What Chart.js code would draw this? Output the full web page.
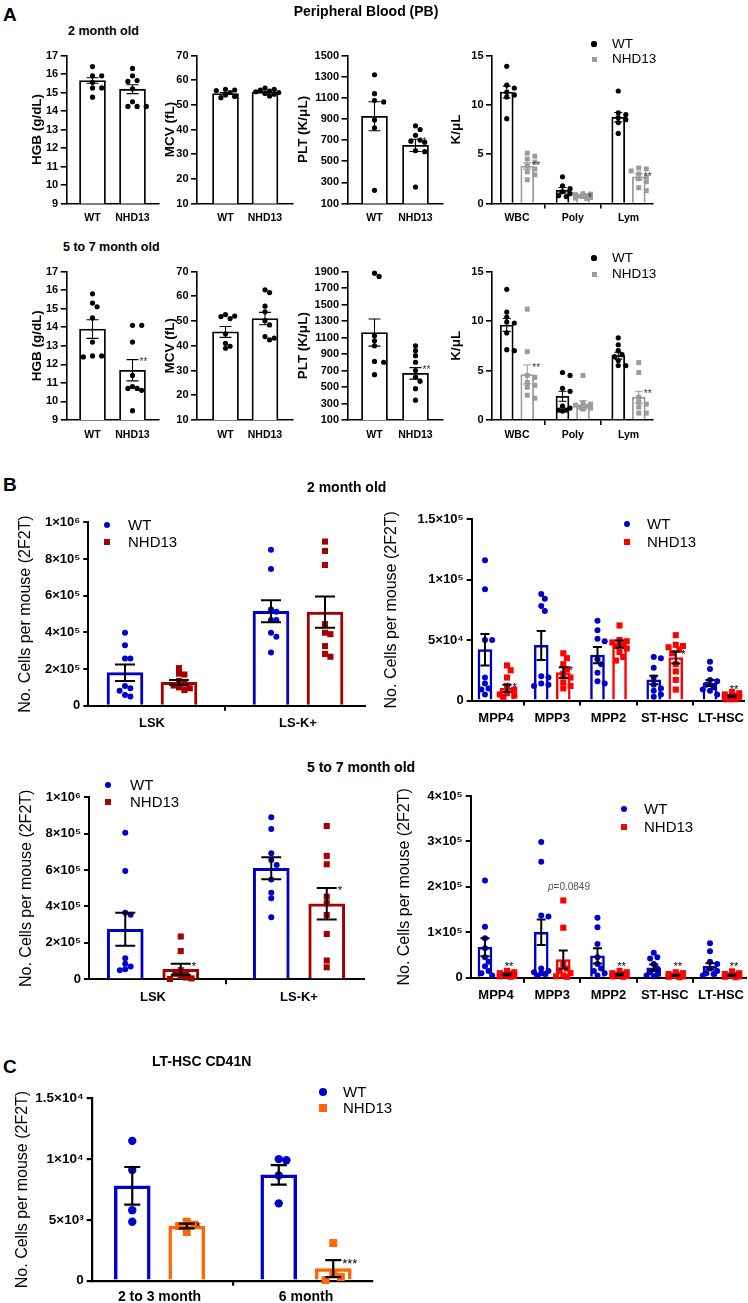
<!DOCTYPE html>
<html lang="en">
<head>
<meta charset="UTF-8">
<title>NHD13 blood and stem cell counts</title>
<script src="https://cdn.jsdelivr.net/npm/chart.js"></script>
<style>
  body { margin: 0; background: #fff; }
  #page { position: relative; width: 748px; height: 1303px; overflow: hidden; font-family: 'Liberation Sans', Arial, Helvetica, sans-serif; }
  #page canvas { position: absolute; }
  .t { position: absolute; white-space: nowrap; line-height: 1.2; color: #000; }
  .mk { position: absolute; }
</style>
</head>
<body>
<div id="page"></div>
<script>
    // ---------- Panel A: peripheral blood ----------
    const pbGroups = ['WT', 'NHD13'];
    const pbCells = ['WBC', 'Poly', 'Lym'];
    const hgbTicks = [9, 10, 11, 12, 13, 14, 15, 16, 17];
    const mcvTicks = [10, 20, 30, 40, 50, 60, 70];
    const plt2Ticks = [100, 300, 500, 700, 900, 1100, 1300, 1500];
    const plt6Ticks = [100, 300, 500, 700, 900, 1100, 1300, 1500, 1700, 1900];
    const kulTicks = [0, 5, 10, 15];

    // 2 month old
    const hgb2Wt = [16.4, 15.9, 15.9, 15.55, 15.25, 15.25, 14.75];
    const hgb2Nhd = [16.3, 15.9, 15.65, 15.6, 15.2, 14.5, 14.25, 14.25, 14.25];
    const hgb2Mean = [15.65, 15.18];
    const hgb2Sem = [0.15, 0.24];
    const hgb2Stars = ['', ''];

    const mcv2Wt = [56.3, 56.0, 55.8, 55.0, 54.0, 53.4, 52.9];
    const mcv2Nhd = [56.8, 56.3, 56.0, 55.6, 55.3, 55.0, 54.6, 54.3, 53.6];
    const mcv2Mean = [54.6, 55.2];
    const mcv2Sem = [0.4, 0.3];
    const mcv2Stars = ['', ''];

    const plt2Wt = [1318, 1139, 1074, 1061, 891, 816, 225];
    const plt2Nhd = [835, 800, 745, 700, 690, 680, 600, 590, 255];
    const plt2Mean = [925, 650];
    const plt2Sem = [137, 58];
    const plt2Stars = ['', '*'];

    const kul2WtPts = [[13.9, 12.0, 11.7, 11.3, 11.0, 10.8, 8.6], [2.7, 1.8, 1.5, 1.2, 1.0, 0.8, 0.7], [11.4, 9.2, 9.0, 8.7, 8.5, 8.2, 7.1]];
    const kul2WtMean = [11.3, 1.35, 8.75];
    const kul2WtSem = [0.6, 0.27, 0.48];
    const kul2NhdPts = [[5.1, 4.8, 4.5, 4.2, 3.8, 3.5, 3.2, 2.9, 2.4], [1.0, 0.95, 0.9, 0.8, 0.75, 0.7, 0.6, 0.55, 0.5], [3.6, 3.5, 3.3, 3.0, 2.7, 2.5, 2.2, 1.6, 1.3]];
    const kul2NhdMean = [3.8, 0.75, 2.7];
    const kul2NhdSem = [0.32, 0.08, 0.3];
    const kul2Stars = ['**', '*', '**'];

    // 5 to 7 month old
    const hgb6Wt = [15.8, 15.3, 15.1, 14.5, 13.2, 12.45, 12.4, 12.45];
    const hgb6Nhd = [14.1, 14.1, 13.2, 11.4, 10.8, 10.7, 10.7, 10.6, 9.5];
    const hgb6Mean = [13.9, 11.68];
    const hgb6Sem = [0.5, 0.57];
    const hgb6Stars = ['', '**'];

    const mcv6Wt = [52.6, 52.0, 51.8, 51.0, 44.8, 41.0, 39.8, 39.0];
    const mcv6Nhd = [62.6, 61.5, 56.0, 53.7, 50.1, 48.4, 43.7, 43.1, 42.4];
    const mcv6Mean = [45.6, 51.0];
    const mcv6Sem = [2.2, 2.5];
    const mcv6Stars = ['', ''];

    const plt6Wt = [1880, 1840, 1120, 1060, 1000, 810, 800, 650];
    const plt6Nhd = [1000, 940, 880, 800, 700, 620, 570, 480, 340];
    const plt6Mean = [1160, 665];
    const plt6Sem = [165, 70];
    const plt6Stars = ['', '**'];

    const kul6WtPts = [[13.2, 10.9, 10.4, 9.9, 9.8, 8.8, 7.1, 7.0], [4.8, 4.5, 3.2, 2.9, 1.4, 1.2, 1.0, 1.0, 0.9], [8.3, 7.6, 7.0, 6.6, 6.4, 6.0, 5.5, 5.5]];
    const kul6WtMean = [9.6, 2.4, 6.5];
    const kul6WtSem = [0.65, 0.5, 0.35];
    const kul6NhdPts = [[11.2, 6.9, 4.5, 4.3, 3.8, 3.5, 3.3, 2.5, 2.2], [4.5, 1.7, 1.6, 1.5, 1.4, 1.3, 1.2, 1.1], [5.8, 4.8, 2.3, 1.8, 1.6, 1.3, 0.7, 0.7]];
    const kul6NhdMean = [4.6, 1.5, 2.3];
    const kul6NhdSem = [0.95, 0.45, 0.6];
    const kul6Stars = ['**', '', '**'];

    // ---------- Panel B: stem / progenitor cells ----------
    const lskCats = ['LSK', 'LS-K+'];
    const mppCats = ['MPP4', 'MPP3', 'MPP2', 'ST-HSC', 'LT-HSC'];
    const lskTicks = [0, 2e5, 4e5, 6e5, 8e5, 1e6];
    const lskTickLabels = ['0', '2×10⁵', '4×10⁵', '6×10⁵', '8×10⁵', '1×10⁶'];
    const mpp2Ticks = [0, 5e4, 1e5, 1.5e5];
    const mpp2TickLabels = ['0', '5×10⁴', '1×10⁵', '1.5×10⁵'];
    const mpp6Ticks = [0, 1e5, 2e5, 3e5, 4e5];
    const mpp6TickLabels = ['0', '1×10⁵', '2×10⁵', '3×10⁵', '4×10⁵'];

    const lsk2WtPts = [[3.98e5, 3.3e5, 2.58e5, 2.58e5, 1.07e5, 0.95e5, 0.82e5, 0.58e5, 0.5e5], [8.5e5, 7.45e5, 5.25e5, 5.12e5, 4.67e5, 4.67e5, 3.98e5, 3.76e5, 2.9e5]];
    const lsk2WtMean = [1.8e5, 5.15e5];
    const lsk2WtSem = [0.45e5, 0.6e5];
    const lsk2NhdPts = [[2.05e5, 1.75e5, 1.7e5, 1.35e5, 1.2e5, 1.1e5, 1.0e5, 0.95e5, 0.85e5], [8.95e5, 8.44e5, 7.67e5, 4.45e5, 3.98e5, 3.9e5, 3.25e5, 2.82e5, 2.67e5]];
    const lsk2NhdMean = [1.27e5, 5.1e5];
    const lsk2NhdSem = [0.13e5, 0.85e5];
    const lsk2Stars = ['', ''];

    const mpp2WtPts = [
        [11.6e4, 9.2e4, 5.0e4, 5.0e4, 1.9e4, 1.4e4, 1.0e4, 0.9e4, 0.5e4],
        [8.8e4, 8.4e4, 7.8e4, 7.4e4, 2.0e4, 1.9e4, 1.4e4, 1.3e4, 1.2e4],
        [6.6e4, 5.8e4, 5.1e4, 4.9e4, 3.4e4, 3.0e4, 2.3e4, 1.6e4, 1.4e4],
        [3.6e4, 3.5e4, 2.7e4, 1.9e4, 1.3e4, 1.0e4, 0.8e4, 0.5e4, 0.3e4],
        [3.2e4, 2.6e4, 1.7e4, 1.6e4, 1.3e4, 1.1e4, 0.9e4, 0.8e4, 0.5e4]];
    const mpp2WtMean = [4.2e4, 4.55e4, 3.75e4, 1.7e4, 1.45e4];
    const mpp2WtSem = [1.3e4, 1.2e4, 0.68e4, 0.35e4, 0.25e4];
    const mpp2NhdPts = [
        [2.9e4, 2.5e4, 1.9e4, 1.2e4, 0.9e4, 0.6e4, 0.5e4, 0.4e4, 0.3e4],
        [3.9e4, 3.5e4, 3.0e4, 2.6e4, 2.2e4, 1.9e4, 1.5e4, 1.2e4, 1.0e4],
        [6.2e4, 5.0e4, 4.9e4, 4.8e4, 4.6e4, 4.5e4, 4.3e4, 4.0e4, 3.6e4, 3.3e4],
        [5.4e4, 4.6e4, 4.5e4, 4.4e4, 4.2e4, 3.9e4, 3.0e4, 2.4e4, 1.7e4, 0.9e4],
        [0.7e4, 0.6e4, 0.5e4, 0.4e4, 0.3e4, 0.3e4, 0.2e4, 0.2e4, 0.1e4, 0.1e4]];
    const mpp2NhdMean = [1.0e4, 2.3e4, 4.65e4, 3.55e4, 0.35e4];
    const mpp2NhdSem = [0.3e4, 0.45e4, 0.3e4, 0.5e4, 0.07e4];
    const mpp2Stars = ['*', '*', '', '*', '**'];

    const lsk6WtPts = [[8.05e5, 5.95e5, 3.65e5, 3.55e5, 1.15e5, 0.85e5, 0.7e5, 0.55e5, 0.5e5], [8.9e5, 8.26e5, 6.92e5, 6.56e5, 6.28e5, 5.49e5, 4.76e5, 4.45e5, 3.41e5]];
    const lsk6WtMean = [2.75e5, 6.1e5];
    const lsk6WtSem = [0.9e5, 0.6e5];
    const lsk6NhdPts = [[2.35e5, 1.55e5, 0.5e5, 0.4e5, 0.3e5, 0.2e5, 0.1e5, 0.05e5, 0.02e5], [8.42e5, 6.78e5, 6.32e5, 4.54e5, 4.18e5, 3.53e5, 2.49e5, 1.03e5, 0.66e5]];
    const lsk6NhdMean = [0.55e5, 4.15e5];
    const lsk6NhdSem = [0.3e5, 0.87e5];
    const lsk6Stars = ['*', '*'];

    const mpp6WtPts = [
        [2.14e5, 1.12e5, 0.87e5, 0.65e5, 0.45e5, 0.35e5, 0.25e5, 0.15e5, 0.1e5, 0.05e5],
        [2.99e5, 2.55e5, 1.37e5, 1.35e5, 0.2e5, 0.15e5, 0.12e5, 0.1e5, 0.08e5, 0.05e5],
        [1.32e5, 1.11e5, 0.74e5, 0.45e5, 0.3e5, 0.2e5, 0.15e5, 0.1e5, 0.05e5],
        [0.55e5, 0.45e5, 0.42e5, 0.3e5, 0.2e5, 0.12e5, 0.08e5, 0.05e5, 0.03e5],
        [0.76e5, 0.58e5, 0.35e5, 0.3e5, 0.2e5, 0.15e5, 0.1e5, 0.08e5, 0.05e5]];
    const mpp6WtMean = [0.67e5, 1.0e5, 0.48e5, 0.22e5, 0.25e5];
    const mpp6WtSem = [0.2e5, 0.28e5, 0.17e5, 0.07e5, 0.07e5];
    const mpp6NhdPts = [
        [0.15e5, 0.12e5, 0.1e5, 0.08e5, 0.06e5, 0.05e5, 0.04e5, 0.03e5, 0.02e5],
        [1.7e5, 1.1e5, 0.3e5, 0.2e5, 0.15e5, 0.1e5, 0.05e5, 0.03e5, 0.02e5],
        [0.15e5, 0.12e5, 0.1e5, 0.08e5, 0.06e5, 0.05e5, 0.04e5, 0.03e5, 0.02e5],
        [0.12e5, 0.1e5, 0.08e5, 0.06e5, 0.05e5, 0.04e5, 0.03e5, 0.02e5, 0.01e5],
        [0.14e5, 0.1e5, 0.08e5, 0.06e5, 0.05e5, 0.04e5, 0.03e5, 0.02e5, 0.01e5]];
    const mpp6NhdMean = [0.07e5, 0.4e5, 0.07e5, 0.05e5, 0.05e5];
    const mpp6NhdSem = [0.015e5, 0.2e5, 0.015e5, 0.01e5, 0.015e5];
    const mpp6Stars = ['**', '', '**', '**', '**'];

    // ---------- Panel C: LT-HSC CD41N ----------
    const cdCats = ['2 to 3 month', '6 month'];
    const cdTicks = [0, 5e3, 1e4, 1.5e4];
    const cdTickLabels = ['0', '5×10³', '1×10⁴', '1.5×10⁴'];
    const cdWtPts = [[1.15e4, 0.91e4, 0.58e4, 0.485e4], [0.99e4, 1.0e4, 0.865e4, 0.636e4]];
    const cdWtMean = [0.78e4, 0.87e4];
    const cdWtSem = [0.155e4, 0.08e4];
    const cdNhdPts = [[0.485e4, 0.46e4, 0.45e4, 0.40e4], [0.31e4, 0.06e4, 0.03e4, 0.005e4]];
    const cdNhdMean = [0.45e4, 0.1e4];
    const cdNhdSem = [0.02e4, 0.07e4];
    const cdStars = ['*', '***'];

    // ---------- drawing ----------
    const FONT = "'Liberation Sans', Arial, Helvetica, sans-serif";
    Chart.defaults.font.family = FONT;
    Chart.defaults.animation = false;
    Chart.defaults.events = [];
    Chart.defaults.plugins.legend.display = false;
    Chart.defaults.plugins.tooltip.enabled = false;
    const page = document.getElementById('page');

    // spread points sideways when they would overlap (pixel offsets),
    // never further than maxSlot steps from the bar centre
    function swarm(vals, pxY, d, step, maxSlot) {
        const order = vals.map((_, i) => i).sort((a, b) => vals[b] - vals[a]);
        const placed = [], out = [];
        order.forEach(i => {
            const y = vals[i] * pxY;
            let best = 0, bestD = -1;
            for (let k = 0; k <= maxSlot * 2; k++) {
                const x = (k % 2 ? 1 : -1) * Math.ceil(k / 2) * d * step;
                const md = placed.reduce((m, p) => Math.min(m, Math.hypot(p.x - x, p.y - y)), Infinity);
                if (md >= d * 0.9) { best = x; break; }
                if (md > bestD) { bestD = md; best = x; }
            }
            placed.push({x: best, y});
            out[i] = best;
        });
        return out;
    }

    function makeChart(g, o) {
        const lh = o.titleSize * 1.2;
        const cl = Math.round(g.titleX - lh / 2);
        const ct = Math.round(g.t - 14);
        const padL = g.l - cl, padT = g.t - ct;
        const w = Math.ceil(g.r + 28 - cl), h = Math.ceil(g.b + 34 - ct);
        const padR = w - (g.r - cl), padB = h - (g.b - ct);
        const xMin = -(g.c0 - g.l) / g.sp, xMax = (g.r - g.c0) / g.sp;
        const pxY = (g.b - g.t) / (o.yMax - o.yMin);

        const canvas = document.createElement('canvas');
        canvas.width = w; canvas.height = h;
        canvas.style.left = cl + 'px';
        canvas.style.top = ct + 'px';
        page.appendChild(canvas);

        const datasets = [], marks = [];
        o.series.forEach(s => {
            const xs = s.cats.map(i => i + (s.off || 0));
            datasets.push({
                type: 'bar', order: 2,
                data: xs.map((x, k) => ({x, y: s.mean[k]})),
                backgroundColor: '#fff', borderColor: s.color, borderWidth: o.barBorder,
                borderSkipped: 'start', barThickness: o.barW, grouped: false
            });
            const pts = [];
            xs.forEach((x, k) => {
                const offs = swarm(s.pts[k], pxY, o.diam, o.step, o.maxSlot);
                s.pts[k].forEach((v, j) => pts.push({x: x + offs[j] / g.sp, y: v}));
                marks.push({x, mean: s.mean[k], sem: s.sem[k], star: s.stars[k], color: s.errColor || '#000'});
            });
            datasets.push({
                type: 'scatter', order: 1, data: pts, clip: false,
                pointStyle: s.shape, pointRadius: s.shape === 'rect' ? o.rectR : o.dotR,
                backgroundColor: s.color, borderWidth: 0, pointBorderWidth: 0
            });
        });

        const semBars = {
            id: 'semBars',
            afterDatasetsDraw(chart) {
                const ctx = chart.ctx, xs = chart.scales.x, ys = chart.scales.y;
                ctx.save();
                ctx.lineWidth = o.errW;
                marks.forEach(m => {
                    const px = xs.getPixelForValue(m.x);
                    const hi = ys.getPixelForValue(m.mean + m.sem);
                    const lo = ys.getPixelForValue(Math.max(m.mean - m.sem, o.yMin));
                    const cw = o.capW / 2;
                    ctx.strokeStyle = m.color;
                    ctx.beginPath();
                    ctx.moveTo(px, hi); ctx.lineTo(px, lo);
                    ctx.moveTo(px - cw, hi); ctx.lineTo(px + cw, hi);
                    ctx.moveTo(px - cw, lo); ctx.lineTo(px + cw, lo);
                    ctx.stroke();
                    if (m.star) {
                        ctx.fillStyle = o.starColor;
                        ctx.font = o.starSize + 'px ' + FONT;
                        ctx.textBaseline = 'middle';
                        if (o.starLow && ys.bottom - hi < o.starLow) {
                            // tiny bars: the asterisks sit above the cluster of points
                            ctx.textAlign = 'center';
                            ctx.fillText(m.star, px + 2, ys.bottom - o.starLow + o.starSize * 0.3);
                        } else {
                            ctx.textAlign = 'left';
                            ctx.fillText(m.star, px + cw + 1, hi + o.starSize * 0.3);
                        }
                    }
                });
                ctx.restore();
            }
        };

        new Chart(canvas, {
            type: 'bar',
            data: {datasets},
            options: {
                responsive: false,
                layout: {padding: {left: 0, top: padT, right: padR, bottom: 0}},
                scales: {
                    x: {
                        type: 'linear', min: xMin, max: xMax, offset: false,
                        afterBuildTicks: s => { s.ticks = o.cats.map((_, i) => ({value: i})); },
                        afterFit: s => { s.height = padB; },
                        ticks: {
                            callback: (v, i) => o.cats[i], autoSkip: false, maxRotation: 0,
                            font: {size: o.xTickSize, weight: 'bold'}, color: '#000', padding: o.xPad
                        },
                        grid: {drawOnChartArea: false, drawTicks: o.xTickLen > 0, tickLength: o.xTickLen, color: '#000', lineWidth: o.axisW},
                        border: {display: true, color: '#000', width: o.axisW}
                    },
                    y: {
                        type: 'linear', min: o.yMin, max: o.yMax,
                        afterBuildTicks: s => { s.ticks = o.yTicks.map(v => ({value: v})); },
                        afterFit: s => { s.width = padL; },
                        ticks: {
                            callback: (v, i) => o.yLabels ? o.yLabels[i] : String(v), autoSkip: false,
                            font: {size: o.yTickSize, weight: 'bold'}, color: '#000', padding: o.yPad
                        },
                        grid: {drawOnChartArea: false, tickLength: o.yTickLen, color: '#000', lineWidth: o.axisW},
                        border: {display: true, color: '#000', width: o.axisW},
                        title: {display: true, text: o.yTitle, color: '#000', padding: 0,
                            font: {size: o.titleSize, weight: o.titleWeight}}
                    }
                }
            },
            plugins: [semBars]
        });
    }

    // series helpers
    function pairSeries(wt, nhd, mean, sem, stars, wtSty, nhdSty) {
        return [
            Object.assign({cats: [0], pts: [wt], mean: [mean[0]], sem: [sem[0]], stars: [stars[0]]}, wtSty),
            Object.assign({cats: [1], pts: [nhd], mean: [mean[1]], sem: [sem[1]], stars: [stars[1]]}, nhdSty)
        ];
    }
    function groupSeries(cats, off, wtPts, wtMean, wtSem, nhdPts, nhdMean, nhdSem, stars, wtSty, nhdSty) {
        const idx = cats.map((_, i) => i);
        return [
            Object.assign({cats: idx, off: -off, pts: wtPts, mean: wtMean, sem: wtSem, stars: idx.map(() => '')}, wtSty),
            Object.assign({cats: idx, off: off, pts: nhdPts, mean: nhdMean, sem: nhdSem, stars: stars}, nhdSty)
        ];
    }

    const styleA = {titleSize: 13.5, titleWeight: 'bold', yTickSize: 11, xTickSize: 10.5, yTickLen: 6, yPad: 2.5,
        axisW: 1.6, barBorder: 1.8, errW: 1.1, starSize: 10, starColor: '#333', diam: 5.4, dotR: 2.6, rectR: 3.5,
        step: 0.85, maxSlot: 3};
    const styleB = {titleSize: 16, titleWeight: 'normal', yTickSize: 13, xTickSize: 13, yTickLen: 5, yPad: 3,
        xTickLen: 5, xPad: 5, axisW: 2, errW: 2, starSize: 11, starColor: '#000', diam: 6, dotR: 3, rectR: 4.3};
    const styleC = {titleSize: 16, titleWeight: 'normal', yTickSize: 13.5, xTickSize: 14, yTickLen: 5, yPad: 3,
        xTickLen: 5, xPad: 3, axisW: 2.2, errW: 2.2, starSize: 13, starColor: '#000', diam: 8.5, dotR: 4.2, rectR: 5.6,
        barBorder: 3.5, barW: 36, capW: 16, step: 0.9, maxSlot: 2};

    const blackDot = {color: '#000', shape: 'circle'};
    const greySq = {color: '#9b9b9b', shape: 'rect', errColor: '#9b9b9b'};
    const single = Object.assign({}, styleA, {cats: pbGroups, xTickLen: 0, xPad: 8.5, barW: 26, capW: 12});
    const multi = Object.assign({}, styleA, {cats: pbCells, xTickLen: 5, xPad: 3.5, barW: 13, capW: 8,
        maxSlot: 2, step: 0.7, yMin: 0, yMax: 15, yTicks: kulTicks, yTitle: 'K/μL'});

    const colA = [
        {l: 66.7, r: 159, c0: 92.5, sp: 40, titleX: 37},
        {l: 197, r: 293, c0: 225.5, sp: 39.5, titleX: 170},
        {l: 347.5, r: 443, c0: 374.5, sp: 41, titleX: 303},
        {l: 492, r: 653, c0: 517, sp: 55.75, titleX: 456}
    ];
    const rowA = [{t: 55.5, b: 203.5}, {t: 271.5, b: 420}];
    const geo = (c, r) => Object.assign({}, colA[c], rowA[r]);

    // A, 2 month old
    makeChart(geo(0, 0), Object.assign({}, single, {yMin: 9, yMax: 17, yTicks: hgbTicks, yTitle: 'HGB (g/dL)',
        series: pairSeries(hgb2Wt, hgb2Nhd, hgb2Mean, hgb2Sem, hgb2Stars, blackDot, blackDot)}));
    makeChart(geo(1, 0), Object.assign({}, single, {yMin: 10, yMax: 70, yTicks: mcvTicks, yTitle: 'MCV (fL)',
        series: pairSeries(mcv2Wt, mcv2Nhd, mcv2Mean, mcv2Sem, mcv2Stars, blackDot, blackDot)}));
    makeChart(geo(2, 0), Object.assign({}, single, {yMin: 100, yMax: 1500, yTicks: plt2Ticks, yTitle: 'PLT (K/μL)',
        series: pairSeries(plt2Wt, plt2Nhd, plt2Mean, plt2Sem, plt2Stars, blackDot, blackDot)}));
    makeChart(geo(3, 0), Object.assign({}, multi, {
        series: groupSeries(pbCells, 0.184, kul2WtPts, kul2WtMean, kul2WtSem, kul2NhdPts, kul2NhdMean, kul2NhdSem, kul2Stars, blackDot, greySq)}));

    // A, 5 to 7 month old
    makeChart(geo(0, 1), Object.assign({}, single, {yMin: 9, yMax: 17, yTicks: hgbTicks, yTitle: 'HGB (g/dL)',
        series: pairSeries(hgb6Wt, hgb6Nhd, hgb6Mean, hgb6Sem, hgb6Stars, blackDot, blackDot)}));
    makeChart(geo(1, 1), Object.assign({}, single, {yMin: 10, yMax: 70, yTicks: mcvTicks, yTitle: 'MCV (fL)',
        series: pairSeries(mcv6Wt, mcv6Nhd, mcv6Mean, mcv6Sem, mcv6Stars, blackDot, blackDot)}));
    makeChart(geo(2, 1), Object.assign({}, single, {yMin: 100, yMax: 1900, yTicks: plt6Ticks, yTitle: 'PLT (K/μL)',
        series: pairSeries(plt6Wt, plt6Nhd, plt6Mean, plt6Sem, plt6Stars, blackDot, blackDot)}));
    makeChart(geo(3, 1), Object.assign({}, multi, {
        series: groupSeries(pbCells, 0.184, kul6WtPts, kul6WtMean, kul6WtSem, kul6NhdPts, kul6NhdMean, kul6NhdSem, kul6Stars, blackDot, greySq)}));

    // B
    const blueDot = {color: '#0000cc', shape: 'circle'};
    const darkRedSq = {color: '#a50000', shape: 'rect'};
    const redSq = {color: '#ff0000', shape: 'rect'};
    const orangeSq = {color: '#ff6600', shape: 'rect'};
    const bTitle = 'No. Cells per mouse (2F2T)';
    const lskStyle = Object.assign({}, styleB, {cats: lskCats, barW: 36, barBorder: 3, capW: 20, step: 0.9, maxSlot: 3,
        yMin: 0, yMax: 1e6, yTicks: lskTicks, yLabels: lskTickLabels, yTitle: bTitle});
    const mppStyle = Object.assign({}, styleB, {cats: mppCats, barW: 14, barBorder: 2.5, capW: 9, step: 0.6, maxSlot: 2,
        starLow: 14, yMin: 0, yTitle: bTitle});

    makeChart({l: 88.3, r: 365, t: 522.3, b: 705.7, c0: 152, sp: 146, titleX: 26}, Object.assign({}, lskStyle, {
        series: groupSeries(lskCats, 0.185, lsk2WtPts, lsk2WtMean, lsk2WtSem, lsk2NhdPts, lsk2NhdMean, lsk2NhdSem, lsk2Stars, blueDot, darkRedSq)}));
    makeChart({l: 471.7, r: 744, t: 519, b: 700.5, c0: 496, sp: 56.25, titleX: 392}, Object.assign({}, mppStyle, {
        yMax: 1.5e5, yTicks: mpp2Ticks, yLabels: mpp2TickLabels,
        series: groupSeries(mppCats, 0.196, mpp2WtPts, mpp2WtMean, mpp2WtSem, mpp2NhdPts, mpp2NhdMean, mpp2NhdSem, mpp2Stars, blueDot, redSq)}));
    makeChart({l: 89, r: 364, t: 797.3, b: 979.3, c0: 153, sp: 146, titleX: 27}, Object.assign({}, lskStyle, {
        series: groupSeries(lskCats, 0.19, lsk6WtPts, lsk6WtMean, lsk6WtSem, lsk6NhdPts, lsk6NhdMean, lsk6NhdSem, lsk6Stars, blueDot, darkRedSq)}));
    makeChart({l: 470.7, r: 745.7, t: 796, b: 977.7, c0: 496, sp: 56.25, titleX: 405}, Object.assign({}, mppStyle, {
        yMax: 4e5, yTicks: mpp6Ticks, yLabels: mpp6TickLabels,
        series: groupSeries(mppCats, 0.196, mpp6WtPts, mpp6WtMean, mpp6WtSem, mpp6NhdPts, mpp6NhdMean, mpp6NhdSem, mpp6Stars, blueDot, redSq)}));

    // C
    makeChart({l: 91.7, r: 372, t: 1098.3, b: 1280.7, c0: 159.5, sp: 146.5, titleX: 23}, Object.assign({}, styleC, {
        cats: cdCats, yMin: 0, yMax: 1.5e4, yTicks: cdTicks, yLabels: cdTickLabels, yTitle: bTitle,
        series: groupSeries(cdCats, 0.186, cdWtPts, cdWtMean, cdWtSem, cdNhdPts, cdNhdMean, cdNhdSem, cdStars, blueDot, orangeSq)}));

    // ---------- titles and legends ----------
    function text(str, x, y, size, opts) {
        opts = opts || {};
        const d = document.createElement('div');
        d.className = 't';
        d.innerHTML = str;
        d.style.fontSize = size + 'px';
        d.style.fontWeight = opts.bold ? 'bold' : 'normal';
        d.style.top = (y - size * 0.6) + 'px';
        d.style.left = x + 'px';
        if (opts.center) d.style.transform = 'translateX(-50%)';
        if (opts.color) d.style.color = opts.color;
        page.appendChild(d);
    }
    function marker(x, y, size, color, round) {
        const m = document.createElement('div');
        m.className = 'mk';
        m.style.left = (x - size / 2) + 'px';
        m.style.top = (y - size / 2) + 'px';
        m.style.width = size + 'px';
        m.style.height = size + 'px';
        m.style.background = color;
        if (round) m.style.borderRadius = '50%';
        page.appendChild(m);
    }
    function legend(x, y1, y2, tx, size, wt, nhd) {
        marker(x, y1, wt.size, wt.color, true);
        text('WT', tx, y1, size);
        marker(x, y2, nhd.size, nhd.color, false);
        text('NHD13', tx, y2, size);
    }

    text('A', 3, 15, 19, {bold: true});
    text('Peripheral Blood (PB)', 366, 11, 14, {bold: true, center: true});
    text('2 month old', 68, 31, 12.5, {bold: true});
    text('5 to 7 month old', 63, 247, 12.5, {bold: true});
    legend(594, 44, 59, 612, 13.5, {size: 5.2, color: '#000'}, {size: 5, color: '#9b9b9b'});
    legend(594, 258, 274, 612, 13.5, {size: 5.2, color: '#000'}, {size: 5, color: '#9b9b9b'});

    text('B', 3, 485, 19, {bold: true});
    text('2 month old', 307, 487, 14, {bold: true});
    text('5 to 7 month old', 307, 767, 14, {bold: true});
    legend(107, 525, 542, 128, 15, {size: 6, color: '#0000cc'}, {size: 6, color: '#a50000'});
    legend(627, 524, 542, 647, 15, {size: 6, color: '#0000cc'}, {size: 6, color: '#ff0000'});
    legend(108, 785, 802, 130, 15, {size: 6, color: '#0000cc'}, {size: 6, color: '#a50000'});
    legend(624, 809, 827, 644, 15, {size: 6, color: '#0000cc'}, {size: 6, color: '#ff0000'});
    text('<i>p</i>=0.0849', 569, 887, 10, {center: true, color: '#555'});

    text('C', 3, 1067, 19, {bold: true});
    text('LT-HSC CD41N', 152, 1061, 14, {bold: true});
    legend(323, 1092, 1108, 343, 15, {size: 8.5, color: '#0000cc'}, {size: 8, color: '#ff6600'});
</script>
</body>
</html>
